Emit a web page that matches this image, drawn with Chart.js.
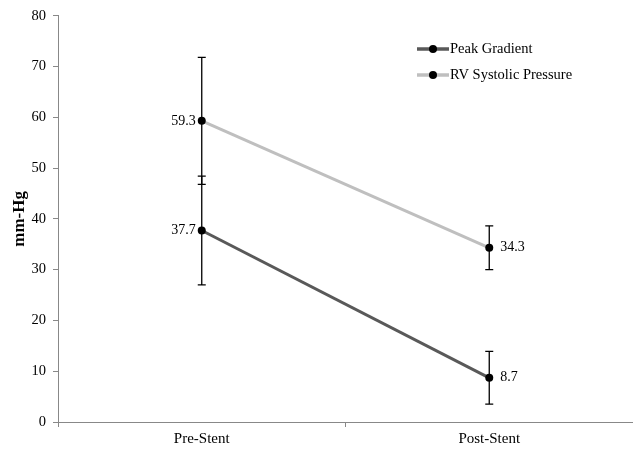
<!DOCTYPE html>
<html>
<head>
<meta charset="utf-8">
<script src="https://cdn.jsdelivr.net/npm/chart.js@4.4.1/dist/chart.umd.min.js"></script>
<style>
  html, body { margin: 0; padding: 0; background: #fff; }
  #wrap { width: 633px; height: 450px; }
</style>
</head>
<body>
<div id="wrap"><canvas id="chart"></canvas></div>
<script>
// values
const categories = ["Pre-Stent", "Post-Stent"];
const peakGradient = [37.7, 8.7];
const peakGradientErr = [10.7, 5.2];
const rvSystolic = [59.3, 34.3];
const rvSystolicErr = [12.5, 4.3];
const yMin = 0, yMax = 80, yStep = 10;

const serif = "'Liberation Serif', 'Times New Roman', serif";
const errors = [peakGradientErr, rvSystolicErr];

// error bars, value labels and the legend box inside the plot
const extras = {
    id: 'extras',
    afterDatasetsDraw(chart) {
        const ctx = chart.ctx;
        const y = chart.scales.y;
        ctx.save();
        ctx.strokeStyle = '#000';
        ctx.lineWidth = 1.3;
        chart.data.datasets.forEach((ds, di) => {
            const meta = chart.getDatasetMeta(di);
            meta.data.forEach((pt, i) => {
                const v = ds.data[i], e = errors[di][i];
                const top = y.getPixelForValue(v + e);
                const bot = y.getPixelForValue(v - e);
                ctx.beginPath();
                ctx.moveTo(pt.x, top); ctx.lineTo(pt.x, bot);
                ctx.moveTo(pt.x - 4, top); ctx.lineTo(pt.x + 4, top);
                ctx.moveTo(pt.x - 4, bot); ctx.lineTo(pt.x + 4, bot);
                ctx.stroke();
            });
        });
        // redraw points over the bars
        chart.data.datasets.forEach((ds, di) => {
            chart.getDatasetMeta(di).data.forEach(pt => {
                ctx.beginPath();
                ctx.fillStyle = '#000';
                ctx.arc(pt.x, pt.y, 4, 0, Math.PI * 2);
                ctx.fill();
            });
        });
        // value labels
        ctx.font = '14px ' + serif;
        ctx.fillStyle = '#000';
        ctx.textBaseline = 'middle';
        chart.data.datasets.forEach((ds, di) => {
            chart.getDatasetMeta(di).data.forEach((pt, i) => {
                const txt = ds.data[i].toFixed(1);
                if (i === 0) {
                    ctx.textAlign = 'right';
                    ctx.fillText(txt, pt.x - 6, pt.y);
                } else {
                    ctx.textAlign = 'left';
                    ctx.fillText(txt, pt.x + 11, pt.y);
                }
            });
        });
        // legend
        ctx.font = '14.5px ' + serif;
        const lx = 417, ly = [49, 75];
        chart.data.datasets.forEach((ds, di) => {
            ctx.beginPath();
            ctx.strokeStyle = ds.borderColor;
            ctx.lineWidth = 3.5;
            ctx.moveTo(lx, ly[di]); ctx.lineTo(lx + 32, ly[di]);
            ctx.stroke();
            ctx.beginPath();
            ctx.fillStyle = '#000';
            ctx.arc(lx + 16, ly[di], 4, 0, Math.PI * 2);
            ctx.fill();
            ctx.textAlign = 'left';
            ctx.fillText(ds.label, lx + 33, ly[di]);
        });
        ctx.restore();
    }
};

new Chart(document.getElementById('chart'), {
    type: 'line',
    data: {
        labels: categories,
        datasets: [
            {
                label: 'Peak Gradient',
                data: peakGradient,
                borderColor: '#595959',
                borderWidth: 3,
                pointRadius: 0,
                tension: 0
            },
            {
                label: 'RV Systolic Pressure',
                data: rvSystolic,
                borderColor: '#bfbfbf',
                borderWidth: 3,
                pointRadius: 0,
                tension: 0
            }
        ]
    },
    options: {
        responsive: true,
        maintainAspectRatio: false,
        animation: false,
        layout: { padding: { top: 14, right: -12, left: 0, bottom: 0 } },
        plugins: {
            legend: { display: false },
            tooltip: { enabled: false }
        },
        scales: {
            x: {
                offset: true,
                grid: { offset: true, drawOnChartArea: false, drawTicks: true, tickLength: 5, color: '#888' },
                border: { color: '#888', width: 1 },
                ticks: { color: '#000', font: { family: serif, size: 15 }, padding: 3 },
                afterFit(scale) { scale.height = 28; }
            },
            y: {
                min: yMin,
                max: yMax,
                grid: { drawOnChartArea: false, drawTicks: true, tickLength: 5, color: '#888' },
                border: { color: '#888', width: 1 },
                ticks: { stepSize: yStep, color: '#000', font: { family: serif, size: 14.5 }, padding: 7 },
                title: { display: true, text: 'mm-Hg', color: '#000', font: { family: serif, size: 17, weight: 'bold' }, padding: { top: 9, bottom: 0 } },
                afterFit(scale) { scale.width = 58; }
            }
        }
    },
    plugins: [extras]
});
</script>
</body>
</html>
